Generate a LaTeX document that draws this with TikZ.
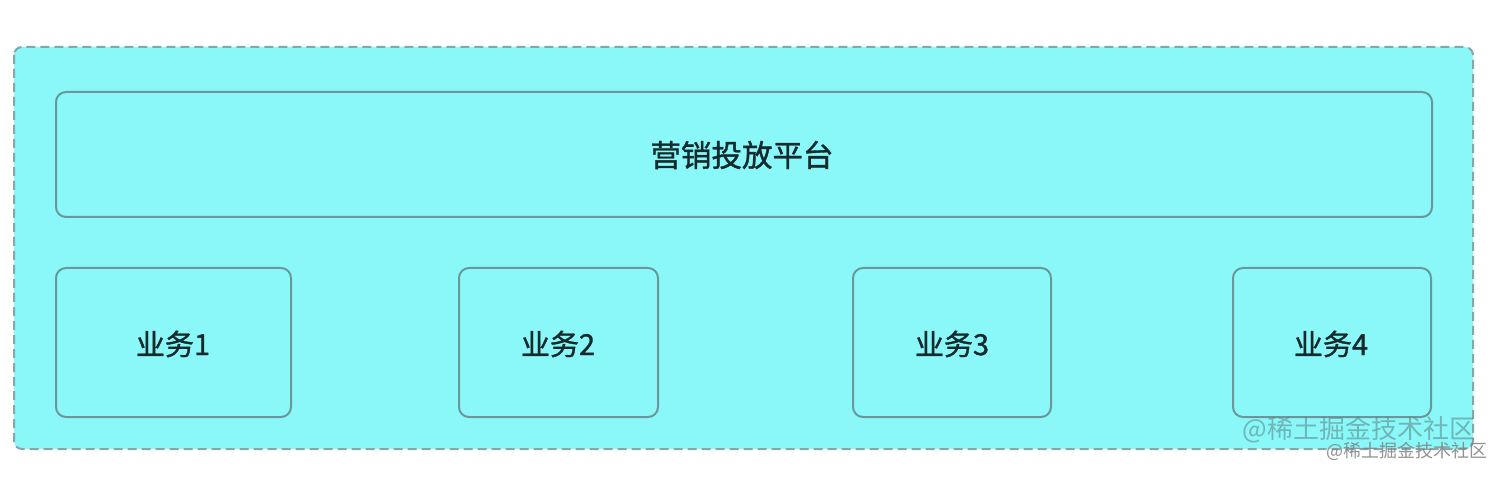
\documentclass[tikz,border=0pt]{standalone}
\usepackage{fontspec}
\setmainfont{Noto Sans CJK SC}[FakeBold=1.2]
\newfontfamily\regfont{Noto Sans CJK SC}
\definecolor{bgcyan}{HTML}{8AF8F9}
\definecolor{dashgray}{HTML}{86A6A8}
\definecolor{boxline}{HTML}{6A9799}
\definecolor{txt}{HTML}{152A2C}
\definecolor{wm}{HTML}{5E8A8C}
\tikzset{
  panel/.style={draw=boxline, line width=2pt, rounded corners=10pt},
  lbl/.style={text=txt, font=\fontsize{29}{33}\selectfont, inner sep=0pt},
}
\begin{document}
\begin{tikzpicture}[x=1pt,y=-1pt]
\useasboundingbox (0,0) rectangle (1504,478);
\fill[white] (0,0) rectangle (1504,478);
\draw[fill=bgcyan, draw=dashgray, line width=2pt, dash pattern=on 9pt off 5pt, rounded corners=8pt] (14,47) rectangle (1473,449);
\draw[panel] (56,92) rectangle (1432,217);
\node[lbl, font=\fontsize{30.5}{34}\selectfont] (top) at (742,155) {营销投放平台};
\draw[panel] (56,268) rectangle (291,417);
\draw[panel] (459,268) rectangle (658,417);
\draw[panel] (853,268) rectangle (1051,417);
\draw[panel] (1233,268) rectangle (1431,417);
\node[lbl] (b1) at (173,344) {业务1};
\node[lbl] (b2) at (558,344) {业务2};
\node[lbl] (b3) at (952,344) {业务3};
\node[lbl] (b4) at (1331,344) {业务4};
\node[text=wm, opacity=0.6, font=\regfont\fontsize{26}{30}\selectfont, inner sep=0pt] (wm1) at (1359,430) {@稀土掘金技术社区};
\node[text=gray, opacity=0.85, font=\regfont\fontsize{18}{22}\selectfont, inner sep=0pt] (wm2) at (1407,451) {@稀土掘金技术社区};
\end{tikzpicture}
\end{document}
